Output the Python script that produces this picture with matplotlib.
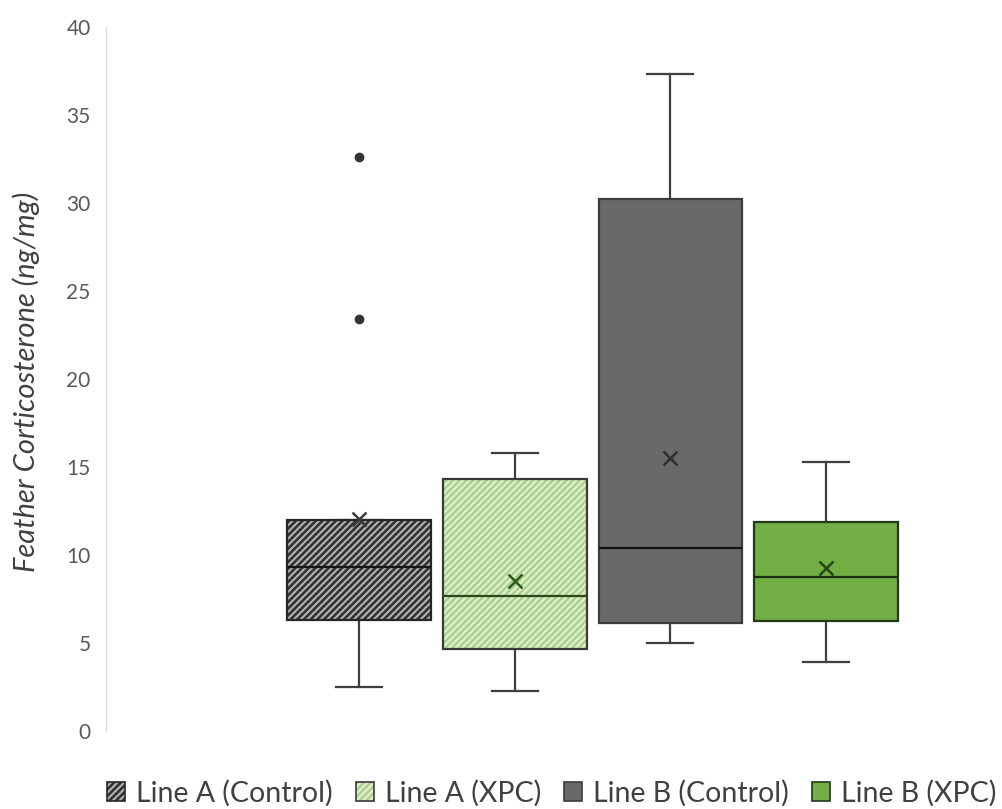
import matplotlib
matplotlib.use("Agg")
import numpy as np
import matplotlib.pyplot as plt
from matplotlib.patches import PathPatch, Patch

# ---- data -------------------------------------------------------------
groups = ["Line A (Control)", "Line A (XPC)", "Line B (Control)", "Line B (XPC)"]
whisker_low = [2.5, 2.25, 5.0, 3.9]
q1 = [6.3, 4.65, 6.15, 6.25]
median = [9.3, 7.65, 10.4, 8.75]
q3 = [12.0, 14.3, 30.2, 11.9]
whisker_high = [12.0, 15.8, 37.35, 15.3]
means = [12.05, 8.55, 15.5, 9.25]
outliers = [[32.6, 23.4], [], [], []]
y_ticks = [0, 5, 10, 15, 20, 25, 30, 35, 40]

# ---- styling ----------------------------------------------------------
fills = ["#323232", "#dcedcc", "#696969", "#71ae44"]
hatch_colors = ["#b3b3b3", "#a6cf86", None, None]
outline_colors = ["#262626", "#3a3a3a", "#3c3c3c", "#24381a"]
median_colors = ["#151515", "#2c4a1c", "#151515", "#1c300f"]
mean_colors = ["#3a3a3a", "#2d5a1b", "#2e2e2e", "#274616"]
whisker_color = "#3f3f3f"
hatch_pattern = "/////"

plt.rcParams["font.family"] = ["Lato", "DejaVu Sans"]
plt.rcParams["hatch.linewidth"] = 1.5

fig = plt.figure(figsize=(10.03, 8.09), dpi=100)
ax = fig.add_axes([106 / 1003, 1 - 731 / 809, (1000 - 106) / 1003, (731 - 27) / 809])

positions = np.arange(1, len(groups) + 1)
stats = []
for i, g in enumerate(groups):
    stats.append(dict(label=g, whislo=whisker_low[i], q1=q1[i], med=median[i],
                      q3=q3[i], whishi=whisker_high[i], mean=means[i],
                      fliers=np.array(outliers[i])))

bp = ax.bxp(stats, positions=positions, widths=0.923, capwidths=0.296,
            patch_artist=True, showmeans=True, meanline=False,
            showfliers=True, manage_ticks=False)

for i, box in enumerate(bp["boxes"]):
    box.set_facecolor(fills[i])
    box.set_edgecolor("none")
    box.set_linewidth(0)
    box.set_zorder(2)
    path, tr = box.get_path(), box.get_transform()
    if hatch_colors[i] is not None:
        ax.add_patch(PathPatch(path, transform=tr, facecolor="none",
                               edgecolor=hatch_colors[i], hatch=hatch_pattern,
                               linewidth=0, zorder=2.1))
    ax.add_patch(PathPatch(path, transform=tr, facecolor="none",
                           edgecolor=outline_colors[i], linewidth=1.6,
                           zorder=2.2))
    bp["medians"][i].set(color=median_colors[i], linewidth=1.6, zorder=2.3)
    for ln in bp["whiskers"][2 * i:2 * i + 2] + bp["caps"][2 * i:2 * i + 2]:
        ln.set(color=whisker_color, linewidth=1.6, zorder=1.9)
    bp["means"][i].set(marker="x", markersize=10, markeredgewidth=1.8,
                       markeredgecolor=mean_colors[i], zorder=2.4)
    bp["fliers"][i].set(marker="o", markersize=6, markerfacecolor="#333333",
                        markeredgecolor="#333333", zorder=2.4)

ax.set_xlim(1 - 253 / 155.5, 4 + 174 / 155.5)
ax.set_ylim(0, 40)
ax.set_yticks(y_ticks)
ax.set_xticks([])
ax.tick_params(axis="y", length=0, pad=11, labelsize=15, labelcolor="#595959")
for s in ("top", "right", "bottom"):
    ax.spines[s].set_visible(False)
ax.spines["left"].set_color("#d9d9d9")
ax.spines["left"].set_linewidth(1.0)

fig.text(26 / 1003, 1 - 382 / 809, "Feather Corticosterone (ng/mg)",
         rotation=90, ha="center", va="center", fontsize=21,
         fontstyle="italic", color="#404040")

# legend with hatched swatches
handles = []
for i in range(len(groups)):
    parts = [Patch(facecolor=fills[i], edgecolor="none", linewidth=0)]
    if hatch_colors[i] is not None:
        parts.append(Patch(facecolor="none", edgecolor=hatch_colors[i],
                           hatch=hatch_pattern, linewidth=0))
    parts.append(Patch(facecolor="none", edgecolor=outline_colors[i],
                       linewidth=1.2))
    handles.append(tuple(parts))

fs = 20.5
fpx = fs * 100 / 72
fig.legend(handles, groups, loc="center left",
           bbox_to_anchor=(107 / 1003, 1 - 793 / 809), ncol=4, frameon=False,
           fontsize=fs, borderpad=0, borderaxespad=0,
           handlelength=18 / fpx, handleheight=18 / fpx,
           handletextpad=11 / fpx, columnspacing=23 / fpx,
           labelcolor="#404040")

fig.savefig("out.png", dpi=100)
